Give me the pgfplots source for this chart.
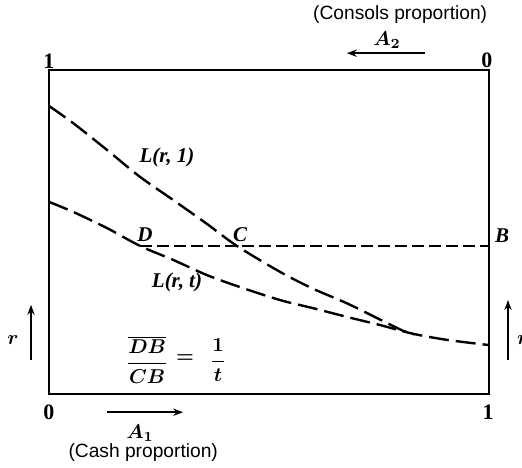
\documentclass[border=0pt]{standalone}
\usepackage{amsmath}
\usepackage{pgfplots}
\pgfplotsset{compat=1.18}
\usepackage{fontspec}
\setmainfont{Liberation Serif}
\newfontfamily\sansf{Liberation Sans}
\usetikzlibrary{arrows.meta}
\begin{document}
\begin{tikzpicture}
\path[use as bounding box] (-24.5pt,-36.5pt) rectangle (236.5pt,197pt);
\begin{axis}[
  at={(0pt,0pt)}, anchor=south west,
  scale only axis, width=220pt, height=162pt,
  xmin=0, xmax=1, ymin=0, ymax=1,
  xtick=\empty, ytick=\empty,
  axis line style={line width=1.2pt},
  clip=false,
]
\addplot[black, line width=1.2pt, dash pattern=on 10pt off 3.5pt, smooth] coordinates {
(0,0.889)(0.055,0.836)(0.132,0.753)(0.207,0.670)(0.282,0.599)(0.359,0.525)(0.427,0.457)(0.525,0.377)(0.600,0.325)(0.677,0.280)(0.752,0.230)(0.805,0.195)(0.830,0.184)};
\addplot[black, line width=1.2pt, dash pattern=on 10pt off 3.5pt, smooth] coordinates {
(0,0.593)(0.055,0.562)(0.132,0.512)(0.207,0.457)(0.282,0.414)(0.359,0.367)(0.434,0.330)(0.525,0.290)(0.600,0.265)(0.677,0.238)(0.752,0.213)(0.827,0.186)(0.905,0.167)(1,0.151)};
\addplot[black, line width=0.9pt, dash pattern=on 6pt off 2.5pt] coordinates {(0.207,0.457)(1,0.457)};
\end{axis}
\tikzset{lab/.style={font=\fontsize{10.5}{12}\selectfont\bfseries\itshape},
  num/.style={font=\fontsize{11}{13}\selectfont\bfseries},
  mth/.style={font=\fontsize{10}{12}\selectfont},
  sns/.style={font=\fontsize{9.6}{11}\selectfont\sansf},
  arr/.style={line width=0.9pt, -{Stealth[length=5pt,width=3.6pt]}}}
\node[lab] at (59.0pt,118.4pt) {L(r, 1)};
\node[lab] at (64.0pt,55.6pt) {L(r, t)};
\node[lab] at (48.0pt,79.5pt) {D};
\node[lab] at (95.5pt,79.5pt) {C};
\node[lab] at (226.6pt,79.1pt) {B};
\node[mth] at (49.1pt,17.0pt) {$\boldsymbol{\dfrac{\overline{DB}}{CB}}$};
\node[mth] at (68.0pt,17.5pt) {$\boldsymbol{=}$};
\node[mth] at (84.5pt,17.0pt) {$\boldsymbol{\dfrac{1}{t}}$};
\node[num] at (0pt,166.5pt) {1};
\node[num] at (218.9pt,167.0pt) {0};
\node[num] at (0pt,-9.1pt) {0};
\node[num] at (219.6pt,-9.1pt) {1};
\node[sns] at (175.6pt,189.5pt) {(Consols proportion)};
\node[mth] at (169.0pt,177.0pt) {$\boldsymbol{A_2}$};
\draw[arr] (188.1pt,170.4pt) -- (148.9pt,170.4pt);
\draw[arr] (29.0pt,-9.1pt) -- (67.1pt,-9.1pt);
\node[mth] at (45.5pt,-19.6pt) {$\boldsymbol{A_1}$};
\node[sns] at (47.1pt,-29.5pt) {(Cash proportion)};
\draw[arr] (-9.0pt,17.0pt) -- (-9.0pt,44.6pt);
\node[mth] at (-18.0pt,27.1pt) {$\boldsymbol{r}$};
\draw[arr] (229.5pt,17.0pt) -- (229.5pt,47.0pt);
\node[mth] at (236.9pt,27.1pt) {$\boldsymbol{r}$};
\end{tikzpicture}
\end{document}
